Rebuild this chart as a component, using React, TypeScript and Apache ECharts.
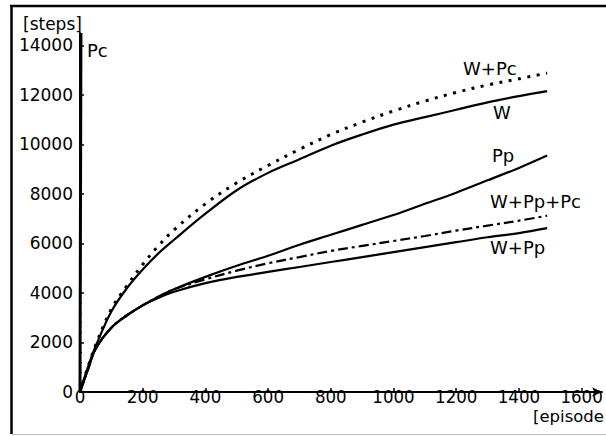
import React, { useEffect, useRef } from "react";
import * as echarts from "echarts";

// episodes at which the curves are sampled
const episodes = [0, 25, 50, 100, 150, 200, 250, 300, 400, 500, 600, 700, 800, 900, 1000, 1100, 1200, 1300, 1400, 1490];

// steps per learning method
const stepsWPc = [0, 1000, 1900, 3350, 4300, 5150, 5900, 6550, 7600, 8450, 9150, 9800, 10400, 10900, 11350, 11750, 12100, 12400, 12650, 12880];
const stepsW = [0, 1000, 1850, 3250, 4200, 4950, 5600, 6150, 7200, 8150, 8850, 9400, 9950, 10400, 10800, 11100, 11400, 11700, 11950, 12150];
const stepsPp = [0, 900, 1750, 2600, 3100, 3500, 3850, 4150, 4650, 5100, 5500, 5950, 6350, 6750, 7150, 7600, 8050, 8550, 9050, 9550];
const stepsWPpPc = [0, 900, 1750, 2600, 3100, 3500, 3850, 4150, 4550, 4900, 5200, 5450, 5700, 5900, 6100, 6300, 6520, 6720, 6920, 7120];
const stepsWPp = [0, 900, 1750, 2600, 3100, 3500, 3800, 4050, 4400, 4650, 4850, 5050, 5250, 5450, 5650, 5850, 6050, 6250, 6420, 6620];

// Pc shoots straight up at the start
const pcEpisodes = [0, 3];
const pcSteps = [0, 14500];

const xTicks = [0, 200, 400, 600, 800, 1000, 1200, 1400, 1600];
const yTicks = [0, 2000, 4000, 6000, 8000, 10000, 12000, 14000];

const FONT = "DejaVu Sans";

export default function App() {
  const ref = useRef<HTMLDivElement>(null);

  useEffect(() => {
    if (!ref.current) return;
    const chart = echarts.init(ref.current, null, { renderer: "svg" });
    const mk = (xs: number[], ys: number[]) => xs.map((x, i) => [x, ys[i]]);
    const lineBase = {
      type: "line" as const,
      showSymbol: false,
      smooth: 0.35,
      silent: true,
    };
    chart.setOption({
      animation: false,
      backgroundColor: "#fff",
      grid: { left: 80, top: 33, right: 4, bottom: 44, containLabel: false },
      xAxis: {
        type: "value",
        min: 0,
        max: 1665,
        interval: 200,
        axisLine: {
          show: true,
          lineStyle: { color: "#000", width: 2 },
          symbol: ["none", "arrow"],
          symbolSize: [7, 10],
        },
        axisTick: {
          show: true,
          inside: true,
          length: 4,
          lineStyle: { color: "#000", width: 1.5 },
          customValues: xTicks,
        },
        axisLabel: {
          color: "#000",
          fontFamily: "'DejaVu Sans Condensed', 'DejaVu Sans', sans-serif",
          fontSize: 18.5,
          margin: -5,
          customValues: xTicks,
          formatter: (v: number) => String(v),
        },
        splitLine: { show: false },
      },
      yAxis: {
        type: "value",
        min: 0,
        max: 14500,
        interval: 2000,
        axisLine: { show: true, lineStyle: { color: "#000", width: 2 } },
        axisTick: {
          show: true,
          inside: true,
          length: 4,
          lineStyle: { color: "#000", width: 1.5 },
          customValues: yTicks,
        },
        minorTick: { show: true, splitNumber: 5, length: 2, lineStyle: { color: "#000", width: 1 } },
        axisLabel: {
          color: "#000",
          fontFamily: FONT,
          fontSize: 17,
          margin: 7,
          customValues: yTicks,
          formatter: (v: number) => String(v),
        },
        splitLine: { show: false },
      },
      series: [
        { ...lineBase, name: "W+Pc", data: mk(episodes, stepsWPc), lineStyle: { color: "#000", width: 3, type: [3, 6.5] } },
        { ...lineBase, name: "W", data: mk(episodes, stepsW), lineStyle: { color: "#000", width: 2.2 } },
        { ...lineBase, name: "Pp", data: mk(episodes, stepsPp), lineStyle: { color: "#000", width: 2.2 } },
        { ...lineBase, name: "W+Pp+Pc", data: mk(episodes, stepsWPpPc), lineStyle: { color: "#000", width: 2.2, type: [10, 4, 3, 4] } },
        { ...lineBase, name: "W+Pp", data: mk(episodes, stepsWPp), lineStyle: { color: "#000", width: 2.2 } },
        { type: "line", name: "Pc", showSymbol: false, silent: true, data: mk(pcEpisodes, pcSteps), lineStyle: { color: "#000", width: 3 } },
      ],
      graphic: [
        { type: "line", shape: { x1: 11.5, y1: 5, x2: 11.5, y2: 434 }, style: { stroke: "#000", lineWidth: 2.5 } },
        { type: "line", shape: { x1: 10, y1: 6, x2: 606, y2: 6 }, style: { stroke: "#000", lineWidth: 2.5 } },
        { type: "line", shape: { x1: 12, y1: 434.5, x2: 606, y2: 434.5 }, style: { stroke: "#bbb", lineWidth: 1 } },
        { type: "text", left: 23, top: 15, style: { text: "[steps]", font: `17px '${FONT}'`, fill: "#000" } },
        { type: "text", left: 533, top: 408, style: { text: "[episode", font: `16.5px '${FONT}'`, fill: "#000" } },
        { type: "text", left: 87, top: 41, style: { text: "Pc", font: `18px '${FONT}'`, fill: "#000" } },
        { type: "text", left: 463, top: 59, style: { text: "W+Pc", font: `18px '${FONT}'`, fill: "#000" } },
        { type: "text", left: 493, top: 103, style: { text: "W", font: `18px '${FONT}'`, fill: "#000" } },
        { type: "text", left: 492, top: 146, style: { text: "Pp", font: `18px '${FONT}'`, fill: "#000" } },
        { type: "text", left: 490, top: 192, style: { text: "W+Pp+Pc", font: `18px '${FONT}'`, fill: "#000" } },
        { type: "text", left: 490, top: 238, style: { text: "W+Pp", font: `18px '${FONT}'`, fill: "#000" } },
      ],
    });
    return () => chart.dispose();
  }, []);

  return (
    <div
      ref={ref}
      style={{ position: "fixed", left: 0, top: 0, width: 606, height: 436, background: "#fff" }}
    />
  );
}
